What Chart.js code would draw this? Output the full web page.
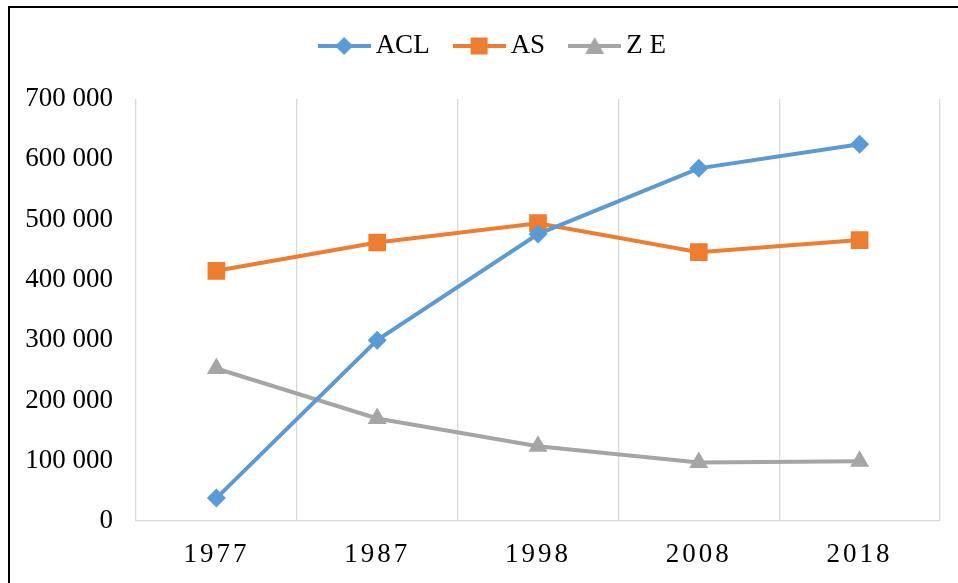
<!DOCTYPE html>
<html>
<head>
<meta charset="utf-8">
<script src="https://cdn.jsdelivr.net/npm/chart.js@4/dist/chart.umd.min.js"></script>
<style>
  html, body { margin: 0; padding: 0; background: #fff; overflow: hidden; }
  #wrap { position: relative; width: 958px; height: 583px; }
  #c { position: absolute; left: 0; top: 0; }
  #frame { position: absolute; left: 8px; top: 6px; width: 1000px; height: 640px; border: 2px solid #000; pointer-events: none; }
</style>
</head>
<body>
<div id="wrap">
  <canvas id="c" width="958" height="583"></canvas>
  <div id="frame"></div>
</div>
<script>
const categories = ['1977', '1987', '1998', '2008', '2018'];
const aclValues = [38000, 300000, 476000, 585000, 625000];
const asValues = [415000, 462000, 494000, 446000, 466000];
const zeValues = [253000, 170000, 124000, 97000, 99000];
const seriesNames = ['ACL', 'AS', 'Z E'];
const yTicks = [0, 100000, 200000, 300000, 400000, 500000, 600000, 700000];

const COLORS = ['#5B9BD5', '#ED7D31', '#A5A5A5'];
const FONT = "'Liberation Serif', 'Times New Roman', serif";
const FSIZE = 27;

function legendIcon(color, style) {
  const cv = document.createElement('canvas');
  cv.width = 53; cv.height = 22;
  const g = cv.getContext('2d');
  g.strokeStyle = color; g.lineWidth = 4;
  g.beginPath(); g.moveTo(0, 11); g.lineTo(53, 11); g.stroke();
  g.fillStyle = color;
  g.beginPath();
  const cx = 26.5, cy = 11;
  if (style === 'diamond') {
    g.moveTo(cx - 9, cy); g.lineTo(cx, cy - 9); g.lineTo(cx + 9, cy); g.lineTo(cx, cy + 9);
  } else if (style === 'square') {
    g.rect(cx - 8.5, cy - 8.5, 17, 17);
  } else {
    g.moveTo(cx, cy - 9); g.lineTo(cx + 9.5, cy + 8); g.lineTo(cx - 9.5, cy + 8);
  }
  g.closePath(); g.fill();
  return cv;
}
const icons = [legendIcon(COLORS[0], 'diamond'), legendIcon(COLORS[1], 'square'), legendIcon(COLORS[2], 'triangle')];

function fmt(v) {
  return String(v).replace(/\B(?=(\d{3})+(?!\d))/g, ' ');
}

const layoutTweaks = {
  id: 'layoutTweaks',
  beforeLayout(chart) {
    const sc = chart.scales.x;
    if (sc && !sc._lsPatched) {
      const orig = sc.drawLabels;
      sc.drawLabels = function (area) {
        const ctx = this.ctx;
        ctx.save();
        ctx.letterSpacing = '3px';
        orig.call(this, area);
        ctx.restore();
      };
      sc._lsPatched = true;
    }
    const lg = chart.legend;
    if (lg && !lg._fitPatched) {
      const origFit = lg.fit;
      lg.fit = function () {
        origFit.call(this);
        this.height = 98;
        this.minSize && (this.minSize.height = 98);
      };
      lg._fitPatched = true;
    }
  },
  afterLayout(chart) {
    const lg = chart.legend;
    if (lg) { lg.left += 26; lg.right += 26; }
  }
};

new Chart(document.getElementById('c'), {
  type: 'line',
  data: {
    labels: categories,
    datasets: [
      { label: seriesNames[0], data: aclValues, borderColor: COLORS[0], backgroundColor: COLORS[0],
        borderWidth: 4, pointStyle: 'rectRot', pointRadius: 9.5, pointBorderWidth: 0, pointHoverRadius: 9.5 },
      { label: seriesNames[1], data: asValues, borderColor: COLORS[1], backgroundColor: COLORS[1],
        borderWidth: 4, pointStyle: 'rect', pointRadius: 12.5, pointBorderWidth: 0, pointHoverRadius: 12.5 },
      { label: seriesNames[2], data: zeValues, borderColor: COLORS[2], backgroundColor: COLORS[2],
        borderWidth: 4, pointStyle: 'triangle', pointRadius: 11, pointBorderWidth: 0, pointHoverRadius: 11 }
    ]
  },
  options: {
    responsive: false,
    animation: false,
    layout: { padding: { left: 0, right: 18, top: 1, bottom: 0 } },
    plugins: {
      tooltip: { enabled: false },
      legend: {
        position: 'top',
        labels: {
          usePointStyle: true,
          pointStyleWidth: 36,
          padding: 31.5,
          color: '#000',
          font: { family: FONT, size: FSIZE },
          generateLabels(chart) {
            return chart.data.datasets.map((ds, i) => ({
              text: ds.label,
              pointStyle: icons[i],
              fillStyle: ds.borderColor,
              strokeStyle: ds.borderColor,
              lineWidth: 0,
              hidden: false,
              datasetIndex: i,
              fontColor: '#000'
            }));
          }
        }
      }
    },
    scales: {
      x: {
        offset: true,
        grid: { display: true, offset: true, color: '#d9d9d9', lineWidth: 1.3, drawTicks: false },
        border: { display: true, color: '#d9d9d9', width: 1.3 },
        ticks: { color: '#000', font: { family: FONT, size: FSIZE }, padding: 18, maxRotation: 0 },
        afterFit(scale) { scale.height = 62; }
      },
      y: {
        min: 0, max: 700000,
        grid: { display: false, drawTicks: false },
        border: { display: false },
        afterBuildTicks(scale) { scale.ticks = yTicks.map(v => ({ value: v })); },
        ticks: { color: '#000', font: { family: FONT, size: FSIZE }, padding: 23, callback: v => fmt(v) },
        afterFit(scale) { scale.width = 136; }
      }
    }
  },
  plugins: [layoutTweaks]
});
</script>
</body>
</html>
